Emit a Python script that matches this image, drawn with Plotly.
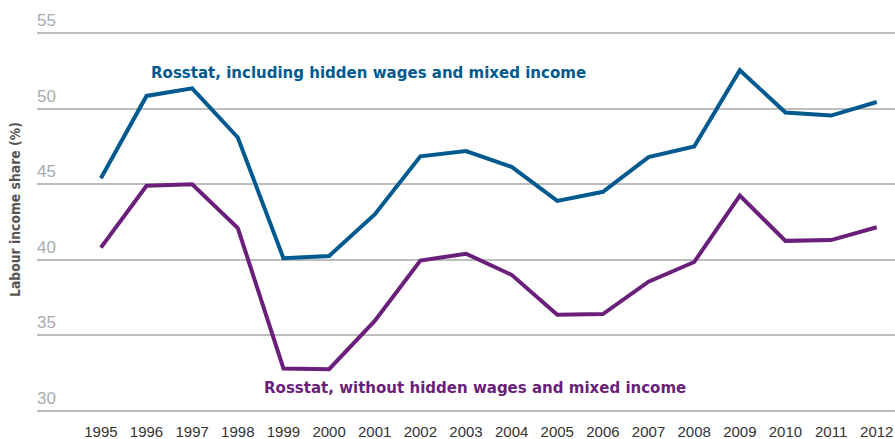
import plotly.graph_objects as go

years = list(range(1995, 2013))
with_hidden = [45.4, 50.85, 51.35, 48.1, 40.1, 40.25, 43.0, 46.85, 47.2, 46.15, 43.9, 44.5, 46.8, 47.5, 52.55, 49.75, 49.55, 50.45]
without_hidden = [40.8, 44.9, 45.0, 42.1, 32.8, 32.75, 35.95, 39.95, 40.4, 39.0, 36.35, 36.4, 38.55, 39.85, 44.25, 41.25, 41.3, 42.15]
y_ticks = [30, 35, 40, 45, 50, 55]

blue = "#005a8f"
purple = "#6a1f7b"
label_font = "DejaVu Sans Condensed, Liberation Sans Narrow, sans-serif"
num_font = "Liberation Sans, Arial, sans-serif"

FIG_W, FIG_H = 895, 439
y0, y1 = 29.85, 55.15
px_per_unit = (411 - 33) / 25.0
top_page = 33 - (y1 - 55) * px_per_unit
bot_page = 411 + (30 - y0) * px_per_unit
L_page, R_page = 37, 895
W = R_page - L_page
H = bot_page - top_page


def px(xp):
    return (xp - L_page) / W


def py(yp):
    return (bot_page - yp) / H


fig = go.Figure()
fig.add_trace(go.Scatter(x=years, y=with_hidden, mode="lines",
                         line=dict(color=blue, width=4), hoverinfo="skip"))
fig.add_trace(go.Scatter(x=years, y=without_hidden, mode="lines",
                         line=dict(color=purple, width=4), hoverinfo="skip"))

fig.add_annotation(text="<b>Rosstat, including hidden wages and mixed income</b>",
                   xref="paper", yref="paper", x=px(149), y=py(72),
                   xanchor="left", yanchor="middle", showarrow=False,
                   font=dict(family=label_font, size=16.7, color=blue))
fig.add_annotation(text="<b>Rosstat, without hidden wages and mixed income</b>",
                   xref="paper", yref="paper", x=px(262), y=py(387),
                   xanchor="left", yanchor="middle", showarrow=False,
                   font=dict(family=label_font, size=16.7, color=purple))
fig.add_annotation(text="<b>Labour income share (%)</b>",
                   xref="paper", yref="paper", x=px(15), y=py(210),
                   xanchor="center", yanchor="middle", showarrow=False, textangle=-90,
                   font=dict(family=label_font, size=13.8, color="#555555"))

for v in y_ticks:
    fig.add_annotation(text=str(v), xref="paper", yref="y", x=0, y=v,
                       xanchor="left", yanchor="bottom", showarrow=False,
                       yshift=1, xshift=-2,
                       font=dict(family=num_font, size=17, color="#ababab"))

fig.update_layout(
    width=FIG_W, height=FIG_H,
    margin=dict(l=L_page, r=FIG_W - R_page, t=top_page, b=FIG_H - bot_page, pad=0),
    paper_bgcolor="white", plot_bgcolor="white",
    showlegend=False,
    xaxis=dict(range=[1993.6, 2012.4], tickmode="array", tickvals=years,
               ticktext=[str(y) for y in years], showgrid=False, zeroline=False,
               showline=False, ticks="", automargin=False, ticklabelstandoff=8,
               tickfont=dict(family=num_font, size=15, color="#333333")),
    yaxis=dict(range=[y0, y1], tickmode="array", tickvals=y_ticks,
               showticklabels=False, automargin=False,
               showgrid=True, gridcolor="#bdbdbd", gridwidth=1.5, zeroline=False,
               showline=False, ticks=""),
)

fig.write_html("out.html", config={"displayModeBar": False},
               post_script="document.body.style.margin='0';document.body.style.overflow='hidden';")
